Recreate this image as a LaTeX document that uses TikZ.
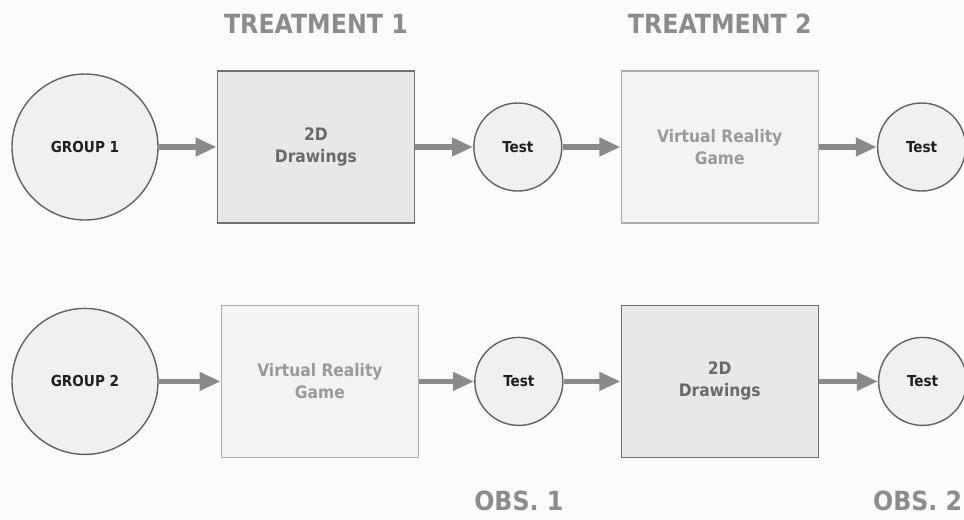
\documentclass[tikz,border=0pt]{standalone}
\usepackage{fontspec}
\setmainfont{DejaVu Sans Condensed}
\usepackage{xcolor}
\definecolor{colorPage}{HTML}{FBFBFB}
\definecolor{colorArrow}{HTML}{8A8A8A}
\definecolor{colorHeading}{HTML}{8C8C8C}
\definecolor{colorCircleFill}{HTML}{F0F0F0}
\definecolor{colorCircleBorder}{HTML}{626262}
\definecolor{colorDrawFill}{HTML}{E7E8EA}
\definecolor{colorDrawBorder}{HTML}{707070}
\definecolor{colorDrawText}{HTML}{6A6A6A}
\definecolor{colorGameFill}{HTML}{F3F3F3}
\definecolor{colorGameBorder}{HTML}{ABABAB}
\definecolor{colorGameText}{HTML}{9A9A9A}
\definecolor{colorNodeText}{HTML}{202020}
\usepackage{tikz}
\usetikzlibrary{arrows.meta, positioning}
\tikzset{
  groupnode/.style={circle, draw=colorCircleBorder, fill=colorCircleFill, line width=0.8pt,
    minimum size=2.92cm, inner sep=0pt, text=colorNodeText, font=\bfseries\fontsize{8.6}{10}\selectfont},
  testnode/.style={groupnode, minimum size=1.76cm},
  drawbox/.style={rectangle, draw=colorDrawBorder, fill=colorDrawFill, line width=0.8pt,
    minimum width=3.94cm, minimum height=3.04cm, align=center, text=colorDrawText,
    font=\bfseries\fontsize{9.8}{12.5}\selectfont},
  gamebox/.style={drawbox, draw=colorGameBorder, fill=colorGameFill, text=colorGameText},
  heading/.style={inner sep=0pt, text=colorHeading, font=\bfseries\fontsize{15}{17}\selectfont},
  flow/.style={->, colorArrow, line width=3.2pt}
}

\begin{document}
\begin{tikzpicture}[>={Triangle[length=12pt,width=10pt]}, node distance=1.16cm]
\useasboundingbox (-1.70,2.94) rectangle (17.58,-7.44);
\fill[colorPage] (-1.70,2.94) rectangle (17.58,-7.44);
% first group
\node[groupnode] (g1) {GROUP 1};
\node[drawbox, right=of g1] (d1) {2D\\Drawings};
\node[testnode, right=of d1] (t11) {Test};
\node[gamebox, right=of t11] (v1) {Virtual Reality\\Game};
\node[testnode, right=of v1] (t12) {Test};
% second group
\node[groupnode, below=1.74cm of g1] (g2) {GROUP 2};
\node[gamebox, right=1.24cm of g2] (v2) {Virtual Reality\\Game};
\node[testnode, right=1.10cm of v2] (t21) {Test};
\node[drawbox, right=1.14cm of t21] (d2) {2D\\Drawings};
\node[testnode, right=1.18cm of d2] (t22) {Test};
% headings
\node[heading, above=0.72cm of d1] (h1) {TREATMENT 1};
\node[heading, above=0.72cm of v1] (h2) {TREATMENT 2};
\node[heading, below=1.28cm of t21] (o1) {OBS. 1};
\node[heading, below=1.28cm of t22, xshift=-0.1cm] (o2) {OBS. 2};
% arrows
\draw[flow] (g1) -- (d1);
\draw[flow] (d1) -- (t11);
\draw[flow] (t11) -- (v1);
\draw[flow] (v1) -- (t12);
\draw[flow] (g2) -- (v2);
\draw[flow] (v2) -- (t21);
\draw[flow] (t21) -- (d2);
\draw[flow] (d2) -- (t22);
\end{tikzpicture}
\end{document}
